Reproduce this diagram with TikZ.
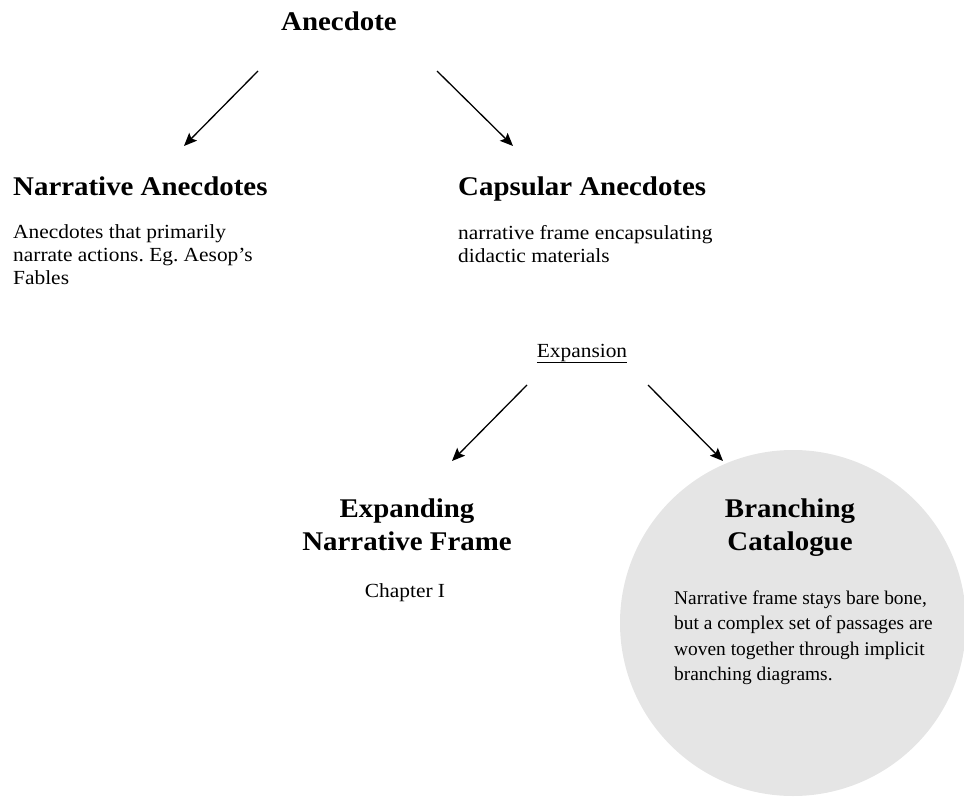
\documentclass[tikz,border=0pt]{standalone}
\usepackage{fontspec}
\setmainfont{Liberation Serif}
\newfontfamily\wide[FakeStretch=1.07]{Liberation Serif}
\usetikzlibrary{arrows.meta}
\frenchspacing
\begin{document}
\begin{tikzpicture}[x=1pt,y=-1pt,
  title/.style={font=\wide\bfseries\fontsize{27}{33}\selectfont, inner sep=0pt},
  body/.style={font=\wide\fontsize{20}{23}\selectfont, inner sep=0pt},
  note/.style={font=\fontsize{19.4}{25.5}\selectfont, inner sep=0pt},
  link/.style={line width=1.3pt, -{Stealth[length=13pt,width=11pt,inset=2.5pt]}}]
  \useasboundingbox (0,0) rectangle (964,797);

  % shaded disc behind the branching catalogue
  \fill[black!10] (793,623) circle[radius=173];

  % top level
  \node[title, anchor=base] (anec) at (339,31) {Anecdote};

  \node[title, anchor=base west] (narr) at (13,196) {Narrative Anecdotes};
  \node[body, anchor=base west] (narrtxt) at (13,238)
    {\begin{tabular}[t]{@{}l@{}}Anecdotes that primarily\\narrate actions. Eg. Aesop’s\\Fables\end{tabular}};

  \node[title, anchor=base west] (caps) at (458,195) {Capsular Anecdotes};
  \node[body, anchor=base west] (capstxt) at (458,239)
    {\begin{tabular}[t]{@{}l@{}}narrative frame encapsulating\\didactic materials\end{tabular}};

  % second level
  \node[body, anchor=base] (expn) at (582,357) {\underline{Expansion}};

  \node[title, anchor=base] (expd) at (407,517)
    {\begin{tabular}[t]{@{}c@{}}Expanding\\Narrative Frame\end{tabular}};
  \node[body, anchor=base] (chap) at (405,597) {Chapter I};

  \node[title, anchor=base] (branch) at (790,517)
    {\begin{tabular}[t]{@{}c@{}}Branching\\Catalogue\end{tabular}};
  \node[note, anchor=base west] (branchtxt) at (674,604)
    {\begin{tabular}[t]{@{}l@{}}Narrative frame stays bare bone,\\but a complex set of passages are\\woven together through implicit\\branching diagrams.\end{tabular}};

  % connector ends
  \coordinate (a1) at (258,71);  \coordinate (a1e) at (184,146);
  \coordinate (a2) at (437,71);  \coordinate (a2e) at (513,146);
  \coordinate (b1) at (527,385); \coordinate (b1e) at (452,461);
  \coordinate (b2) at (648,385); \coordinate (b2e) at (723,461);

  \draw[link] (a1) -- (a1e);
  \draw[link] (a2) -- (a2e);
  \draw[link] (b1) -- (b1e);
  \draw[link] (b2) -- (b2e);
\end{tikzpicture}
\end{document}
